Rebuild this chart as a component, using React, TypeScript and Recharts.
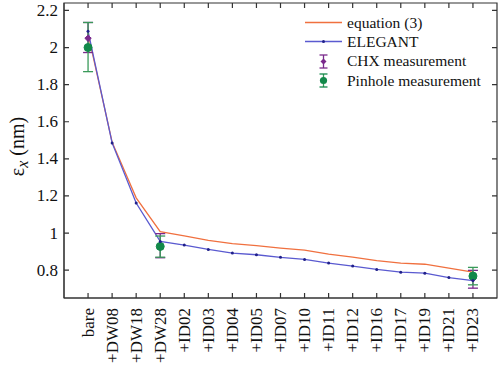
import React from 'react';
import { ComposedChart, Line, Scatter, XAxis, YAxis, ErrorBar, Legend, ReferenceArea } from 'recharts';

// ---------- data ----------
const categories = ['bare', '+DW08', '+DW18', '+DW28', '+ID02', '+ID03', '+ID04', '+ID05', '+ID07', '+ID10', '+ID11', '+ID12', '+ID16', '+ID17', '+ID19', '+ID21', '+ID23'];
const equation3 = [2.075, 1.49, 1.19, 1.008, 0.985, 0.961, 0.943, 0.932, 0.919, 0.908, 0.886, 0.87, 0.852, 0.838, 0.832, 0.811, 0.789];
const elegant = [2.088, 1.486, 1.162, 0.955, 0.935, 0.912, 0.892, 0.883, 0.869, 0.858, 0.838, 0.822, 0.804, 0.789, 0.784, 0.76, 0.744];

const measuredAt = ['bare', '+DW28', '+ID23'];
const chxValues = [2.05, 0.935, 0.754];
const chxLow = [1.973, 0.867, 0.703];
const chxHigh = [2.135, 0.997, 0.799];
const pinholeValues = [2.0, 0.928, 0.768];
const pinholeLow = [1.87, 0.87, 0.721];
const pinholeHigh = [2.135, 0.984, 0.815];

const yTicks = [0.8, 1, 1.2, 1.4, 1.6, 1.8, 2, 2.2];
const yDomain = [0.65, 2.24];
const xDomain = [0, categories.length + 1];
const xTicks = categories.map((_, i) => i + 1);

// ---------- derived tables ----------
const lineData = categories.map((c, i) => ({ x: i + 1, name: c, eq: equation3[i], el: elegant[i] }));
const chxData = measuredAt.map((c, i) => ({
  x: categories.indexOf(c) + 1,
  y: chxValues[i],
  err: [chxValues[i] - chxLow[i], chxHigh[i] - chxValues[i]],
}));
const pinData = measuredAt.map((c, i) => ({
  x: categories.indexOf(c) + 1,
  y: pinholeValues[i],
  err: [pinholeValues[i] - pinholeLow[i], pinholeHigh[i] - pinholeValues[i]],
}));

// ---------- layout / styles ----------
const CHART_W = 500;
const CHART_H = 368;
const MARGIN = { top: 3, right: 3, left: 0, bottom: 0 };
const Y_AXIS_W = 64;
const X_AXIS_H = 70;
const PLOT_TOP = MARGIN.top;
const PLOT_RIGHT = CHART_W - MARGIN.right;
const FONT = "'Liberation Serif', 'Times New Roman', serif";
const AXIS = '#333333';
const ORANGE = '#f0703f';
const BLUE = '#5a5ad0';
const BLUE_DOT = '#20208a';
const PURPLE = '#7a2a8c';
const GREEN = '#12894a';
const GREEN_BAR = '#3a9a5a';
const TICK_MARGIN_X = 10;
const TICK_MARGIN_Y = 6;
const TICK_LEN = 5;

const XTick = (props: any) => {
  const x = Number(props.x);
  const y = Number(props.y);
  const axisY = y - TICK_MARGIN_X;
  return (
    <g>
      <path
        d={`M${x},${axisY}V${axisY - TICK_LEN}M${x},${PLOT_TOP}V${PLOT_TOP + TICK_LEN}`}
        stroke={AXIS}
        strokeWidth={1.2}
        fill="none"
      />
      <text
        x={x}
        y={y}
        transform={`rotate(-90 ${x} ${y})`}
        textAnchor="end"
        dominantBaseline="central"
        fontFamily="Liberation Serif"
        fontSize={17}
        fill="#111"
      >
        {categories[props.payload.value - 1]}
      </text>
    </g>
  );
};

const YTick = (props: any) => {
  const x = Number(props.x);
  const y = Number(props.y);
  const axisX = x + TICK_MARGIN_Y;
  return (
    <g>
      <path
        d={`M${axisX},${y}H${axisX + TICK_LEN}M${PLOT_RIGHT},${y}H${PLOT_RIGHT - TICK_LEN}`}
        stroke={AXIS}
        strokeWidth={1.2}
        fill="none"
      />
      <text x={x} y={y} textAnchor="end" dominantBaseline="central" fontFamily="Liberation Serif" fontSize={17} fill="#111">
        {props.payload.value}
      </text>
    </g>
  );
};

const YLabel = (props: any) => {
  const vb = props.viewBox || { x: 0, y: PLOT_TOP, width: Y_AXIS_W, height: CHART_H - X_AXIS_H - PLOT_TOP };
  const cx = Number(vb.x) + 17;
  const cy = Number(vb.y) + Number(vb.height) / 2 - 4;
  return (
    <text
      x={cx}
      y={cy}
      transform={`rotate(-90 ${cx} ${cy})`}
      textAnchor="middle"
      dominantBaseline="central"
      fontFamily="Liberation Serif"
      fontSize={20}
      fill="#111"
    >
      ε
      <tspan fontStyle="italic" fontSize={16} dy={5}>x</tspan>
      <tspan dy={-5}> (nm)</tspan>
    </text>
  );
};

const Diamond = (props: any) => {
  const { cx, cy } = props;
  if (cx == null || cy == null) return null;
  const s = 3.2;
  return <path d={`M${cx},${cy - s} L${cx + s},${cy} L${cx},${cy + s} L${cx - s},${cy} Z`} fill={PURPLE} stroke={PURPLE} />;
};

const Dot = (props: any) => {
  const { cx, cy } = props;
  if (cx == null || cy == null) return null;
  return <circle cx={cx} cy={cy} r={4} fill={GREEN} stroke={GREEN} />;
};

const legendItems = [
  { label: 'equation (3)', kind: 'line', color: ORANGE },
  { label: 'ELEGANT', kind: 'linedot', color: BLUE },
  { label: 'CHX measurement', kind: 'chx', color: PURPLE },
  { label: 'Pinhole measurement', kind: 'pin', color: GREEN },
];

const LegendIcon = ({ kind, color }: { kind: string; color: string }) => {
  const w = 40;
  const h = 19;
  const c = 18.5;
  const m = h / 2;
  return (
    <svg width={w} height={h} style={{ display: 'block' }}>
      {(kind === 'line' || kind === 'linedot') && <line x1={0} x2={37} y1={m} y2={m} stroke={color} strokeWidth={1.3} />}
      {kind === 'linedot' && <circle cx={c} cy={m} r={1.5} fill={BLUE_DOT} />}
      {(kind === 'chx' || kind === 'pin') && (
        <g stroke={color} strokeWidth={1.3}>
          <line x1={c} x2={c} y1={m - 6.5} y2={m + 6.5} stroke={kind === 'pin' ? GREEN_BAR : color} />
          <line x1={c - 4} x2={c + 4} y1={m - 6.5} y2={m - 6.5} />
          <line x1={c - 4} x2={c + 4} y1={m + 6.5} y2={m + 6.5} />
        </g>
      )}
      {kind === 'chx' && <path d={`M${c},${m - 3} L${c + 3},${m} L${c},${m + 3} L${c - 3},${m} Z`} fill={color} />}
      {kind === 'pin' && <circle cx={c} cy={m} r={3.6} fill={color} />}
    </svg>
  );
};

const LegendContent = () => (
  <div style={{ fontFamily: FONT, fontSize: 15.5, color: '#111' }}>
    {legendItems.map((it) => (
      <div key={it.label} style={{ display: 'flex', alignItems: 'center', height: 19.3, whiteSpace: 'nowrap' }}>
        <LegendIcon kind={it.kind} color={it.color} />
        <span style={{ marginLeft: 2 }}>{it.label}</span>
      </div>
    ))}
  </div>
);

export default function App() {
  return (
    <div style={{ position: 'absolute', left: 0, top: 0, width: CHART_W, height: CHART_H, background: '#fff', fontFamily: FONT }}>
      <ComposedChart width={CHART_W} height={CHART_H} margin={MARGIN}>
        <XAxis
          xAxisId="b"
          dataKey="x"
          type="number"
          domain={xDomain}
          ticks={xTicks}
          interval={0}
          allowDataOverflow
          height={X_AXIS_H}
          stroke={AXIS}
          tickLine={false}
          tickSize={0}
          tickMargin={TICK_MARGIN_X}
          tick={XTick}
        />
        <YAxis
          yAxisId="l"
          type="number"
          domain={yDomain}
          ticks={yTicks}
          interval={0}
          allowDataOverflow
          width={Y_AXIS_W}
          stroke={AXIS}
          tickLine={false}
          tickSize={0}
          tickMargin={TICK_MARGIN_Y}
          tick={YTick}
          label={<YLabel />}
        />
        <ReferenceArea
          xAxisId="b"
          yAxisId="l"
          x1={xDomain[0]}
          x2={xDomain[1]}
          y1={yDomain[0]}
          y2={yDomain[1]}
          fill="none"
          fillOpacity={0}
          stroke={AXIS}
          strokeWidth={1.2}
          ifOverflow="visible"
        />
        <Legend
          layout="vertical"
          align="center"
          verticalAlign="middle"
          wrapperStyle={{ top: 13, left: 305, width: 195 }}
          content={<LegendContent />}
        />
        <Line
          xAxisId="b"
          yAxisId="l"
          data={lineData}
          dataKey="eq"
          stroke={ORANGE}
          strokeWidth={1.3}
          dot={false}
          isAnimationActive={false}
        />
        <Line
          xAxisId="b"
          yAxisId="l"
          data={lineData}
          dataKey="el"
          stroke={BLUE}
          strokeWidth={1.3}
          dot={{ r: 1.5, fill: BLUE_DOT, stroke: 'none' }}
          isAnimationActive={false}
        />
        <Scatter xAxisId="b" yAxisId="l" data={chxData} dataKey="y" shape={<Diamond />} isAnimationActive={false}>
          <ErrorBar dataKey="err" direction="y" width={5} stroke={PURPLE} strokeWidth={1.3} isAnimationActive={false} />
        </Scatter>
        <Scatter xAxisId="b" yAxisId="l" data={pinData} dataKey="y" shape={<Dot />} isAnimationActive={false}>
          <ErrorBar dataKey="err" direction="y" width={5} stroke={GREEN_BAR} strokeWidth={1.3} isAnimationActive={false} />
        </Scatter>
      </ComposedChart>
    </div>
  );
}
